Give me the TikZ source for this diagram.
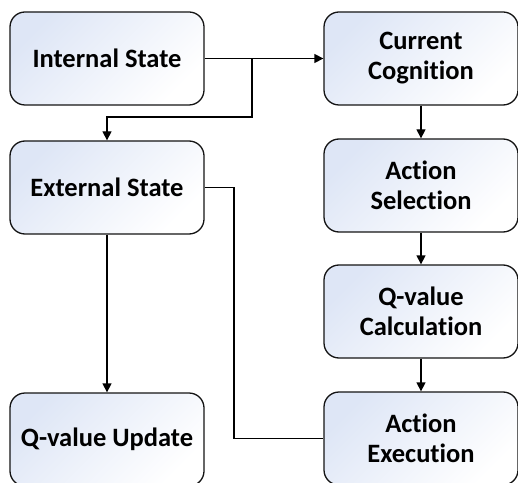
\documentclass[tikz,border=0pt]{standalone}
\usepackage{fontspec}
\setmainfont[Ligatures=NoCommon]{Carlito}
\usetikzlibrary{arrows.meta}
\definecolor{box1}{RGB}{222,230,246}
\definecolor{line1}{RGB}{20,20,20}

\begin{document}
\begin{tikzpicture}[x=1pt, y=1pt, line width=1.3pt, >={Triangle[length=9pt,width=9pt]},
  blk/.style={draw=line1, rounded corners=15pt, top color=box1, bottom color=white,
    shading angle=45, minimum width=194pt, minimum height=93pt, align=center,
    font=\fontsize{26.5}{30}\selectfont\bfseries}]
  \useasboundingbox (0,0) rectangle (518,482);
  \node[blk] (n1) at (107,423.5) {Internal State};
  \node[blk] (n2) at (421,423.5) {Current\\Cognition};
  \node[blk] (n3) at (107,294.5) {External State};
  \node[blk] (n4) at (421,296.5) {Action\\Selection};
  \node[blk] (n5) at (421,170.5) {Q-value\\Calculation};
  \node[blk] (n6) at (421,43.5) {Action\\Execution};
  \node[blk] (n7) at (107,42.5) {Q-value Update};
  \coordinate (c1) at (252,423.5);
  \coordinate (c2) at (252,365);
  \coordinate (c3) at (234,43.5);
  \foreach \from/\to in {n1/n2, n2/n4, n4/n5, n5/n6, n3/n7}
   \draw[->] (\from) -- (\to);
  \draw[->] (c1) -- (c2) -| (n3.north);
  \draw (n3.east) -| (c3) -- (n6.west);
\end{tikzpicture}
\end{document}
